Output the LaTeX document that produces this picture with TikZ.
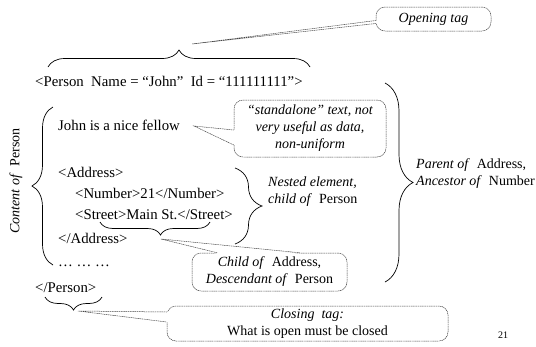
\documentclass[tikz,border=0pt]{standalone}
\usepackage{fontspec}
\setmainfont{Liberation Serif}
\usetikzlibrary{decorations.pathreplacing,calc}

\begin{document}
\begin{tikzpicture}[x=1pt,y=-1pt,
  code/.style={inner sep=0pt, anchor=base west, font=\fontsize{14.8}{18}\selectfont},
  remark/.style={inner sep=0pt, anchor=base west, align=left, font=\fontsize{14}{16.5}\selectfont},
  callout/.style={draw=gray!55!black, line width=0.5pt, dash pattern=on 1.2pt off 0.6pt,
    rounded corners=9pt, fill=white, align=center, inner sep=0pt,
    font=\fontsize{14}{17}\selectfont},
  pointer/.style={draw=gray!55!black, line width=0.5pt, dash pattern=on 1.2pt off 0.6pt},
  curly/.style={decorate, decoration={brace, amplitude=#1}, line width=0.7pt},
  curly/.default=12,
]
\useasboundingbox (0,0) rectangle (536,346);

% XML listing
\node[code] (open)   at (35,86)  {<Person\ \ Name = “John”\ \ Id = “111111111”>};
\node[code] (john)   at (58,130) {John is a nice fellow};
\node[code] (addr)   at (58,177) {<Address>};
\node[code] (num)    at (75,198) {<Number>21</Number>};
\node[code] (street) at (75,219) {<Street>Main St.</Street>};
\node[code] (addrx)  at (58,243) {</Address>};
\node[code] (dots)   at (58,266) {… … …};
\node[code] (close)  at (35,292) {</Person>};

% braces
\draw[curly=17] (48,67) -- (310,67);
\draw[curly=21] (53,265) -- (53,107);
\draw[curly=27] (235,168) -- (235,244);
\draw[curly=28] (385,83) -- (385,282);
\draw[curly=13, decoration={aspect=0.45}] (210,222) -- (100,222);
\draw[curly=13] (102,297) -- (45,297);

% brace labels
\node[rotate=90, inner sep=0pt, font=\fontsize{14}{16}\selectfont] (content) at (16,181)
  {\textit{Content of}\ \ Person};
\node[remark] (nested) at (268,203) {\textit{Nested element,}\\\textit{child of}\ \ Person};
\node[remark] (parent) at (416,185) {\textit{Parent of}\ \ Address,\\\textit{Ancestor of}\ \ Number};

% callouts
\node[callout, minimum width=115pt, minimum height=24pt] (opening) at (433.5,19)
  {\textit{Opening tag}};
\node[callout, minimum width=152pt, minimum height=57pt] (standalone) at (310,128.5)
  {\textit{“standalone” text, not}\\\textit{very useful as data,}\\\textit{non-uniform}};
\node[callout, minimum width=155pt, minimum height=38pt] (child) at (269.5,272)
  {\textit{Child of}\ \ Address,\\\textit{Descendant of}\ \ Person};
\node[callout, minimum width=281pt, minimum height=35pt] (closing) at (307.5,323.5)
  {\textit{Closing\ \ tag:}\\What is open must be closed};

% callout pointer tips and bases
\coordinate (t1) at (192,44);
\coordinate (a1) at ($(opening.west)+(0,1.5)$);
\coordinate (b1) at ($(opening.west)+(0,4.5)$);
\coordinate (t2) at (194,126);
\coordinate (a2) at ($(standalone.west)+(0,1.5)$);
\coordinate (b2) at ($(standalone.west)+(0,16.5)$);
\coordinate (t3) at (161,239);
\coordinate (a3) at ($(child.north)+(-52.5,0)$);
\coordinate (b3) at ($(child.north)+(30,0)$);
\coordinate (t4) at (78,311);
\coordinate (a4) at ($(closing.west)+(0,-11.5)$);
\coordinate (b4) at ($(closing.west)+(0,-1.5)$);

\fill[white] (t1) -- ($(a1)+(1,0)$) -- ($(b1)+(1,0)$) -- cycle;
\fill[white] (t2) -- ($(a2)+(1,0)$) -- ($(b2)+(1,0)$) -- cycle;
\fill[white] (t3) -- ($(a3)+(0,1)$) -- ($(b3)+(0,1)$) -- cycle;
\fill[white] (t4) -- ($(a4)+(1,0)$) -- ($(b4)+(1,0)$) -- cycle;
\draw[pointer] (a1) -- (t1) -- (b1);
\draw[pointer] (a2) -- (t2) -- (b2);
\draw[pointer] (a3) -- (t3) -- (b3);
\draw[pointer] (a4) -- (t4) -- (b4);

% slide number
\node[inner sep=0pt, font=\fontsize{10}{12}\selectfont] (page) at (503,335) {21};
\end{tikzpicture}
\end{document}
